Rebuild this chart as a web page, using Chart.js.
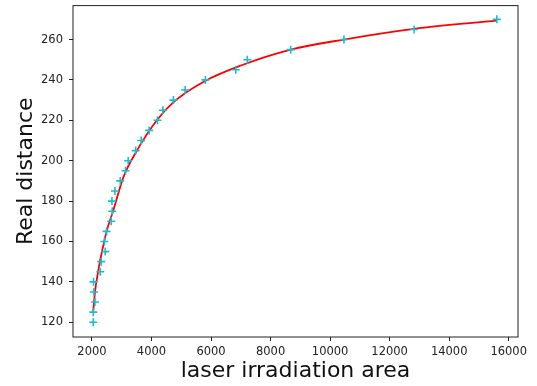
<!DOCTYPE html>
<html>
<head>
<meta charset="utf-8">
<script src="https://cdn.jsdelivr.net/npm/chart.js@4"></script>
<style>
  html, body { margin: 0; padding: 0; background: #fff; }
  canvas { display: block; }
</style>
</head>
<body>
<canvas id="chart" width="537" height="386"></canvas>
<script>
// measured points (cyan +)
const areaPoints = [2044, 2044, 2101, 2067, 2054, 2278, 2312, 2446, 2419, 2490,
  2647, 2681, 2671, 2772, 2949, 3127, 3218, 3469, 3654, 3922,
  4201, 4382, 4737, 5130, 5811, 6831, 7220, 8676, 10464, 12822, 15600];
const distPoints = [120, 125, 130, 135, 140, 145, 150, 155, 160, 165,
  170, 175, 180, 185, 190, 195, 200, 205, 210, 215,
  220, 225, 230, 235, 240, 245, 250, 255, 260, 265, 270];

// fitted curve (red)
const fitArea = [2040, 2110, 2200, 2280, 2380, 2500, 2720, 3060, 3510, 4180,
  4740, 5740, 6980, 8680, 10460, 12820, 15600];
const fitDist = [125, 136, 144.5, 151, 158, 165.5, 175.5, 192, 205, 220,
  229, 239, 247, 255, 260, 265.3, 269.4];

const xTicks = [2000, 4000, 6000, 8000, 10000, 12000, 14000, 16000];
const yTicks = [120, 140, 160, 180, 200, 220, 240, 260];

Chart.defaults.font.family = 'DejaVu Sans';
Chart.defaults.color = '#222';

// matplotlib style box round the axes
const frame = {
  id: 'frame',
  afterDraw(chart) {
    const { ctx, chartArea: a } = chart;
    ctx.save();
    ctx.strokeStyle = '#222';
    ctx.lineWidth = 1;
    ctx.strokeRect(a.left, a.top, a.right - a.left, a.bottom - a.top);
    ctx.restore();
  }
};

new Chart(document.getElementById('chart').getContext('2d'), {
  type: 'scatter',
  data: {
    datasets: [
      {
        label: 'measured',
        data: areaPoints.map((x, i) => ({ x, y: distPoints[i] })),
        pointStyle: 'cross',
        pointRadius: 4,
        borderColor: '#17becf',
        backgroundColor: '#17becf',
        pointBorderWidth: 1.6,
        order: 0
      },
      {
        label: 'fit',
        type: 'line',
        data: fitArea.map((x, i) => ({ x, y: fitDist[i] })),
        borderColor: '#ff0000',
        borderWidth: 1.8,
        pointRadius: 0,
        cubicInterpolationMode: 'monotone',
        fill: false,
        order: 1
      }
    ]
  },
  plugins: [frame],
  options: {
    responsive: false,
    animation: false,
    layout: { padding: { top: 5, right: 19, left: 0, bottom: 0 } },
    plugins: { legend: { display: false }, tooltip: { enabled: false } },
    scales: {
      x: {
        type: 'linear',
        min: 1363,
        max: 16312,
        afterBuildTicks: s => { s.ticks = xTicks.map(v => ({ value: v })); },
        afterFit: s => { s.height = 49; s.paddingLeft = 0; s.paddingRight = 0; },
        border: { display: false },
        grid: { display: true, drawOnChartArea: false, drawTicks: true, tickLength: 4, color: '#222' },
        ticks: { font: { size: 11.5 }, padding: 4, maxRotation: 0, autoSkip: false, callback: v => String(v) },
        title: { display: true, text: 'laser irradiation area', font: { size: 22 }, color: '#111', padding: { top: 0, bottom: 2 } }
      },
      y: {
        type: 'linear',
        min: 112.7,
        max: 276.8,
        afterBuildTicks: s => { s.ticks = yTicks.map(v => ({ value: v })); },
        afterFit: s => { s.width = 73; s.paddingTop = 0; s.paddingBottom = 0; },
        border: { display: false },
        grid: { display: true, drawOnChartArea: false, drawTicks: true, tickLength: 4, color: '#222' },
        ticks: { font: { size: 11.5 }, padding: 6, autoSkip: false, callback: v => String(v) },
        title: { display: true, text: 'Real distance', font: { size: 22 }, color: '#111', padding: { top: 13, bottom: 0 } }
      }
    }
  }
});
</script>
</body>
</html>
